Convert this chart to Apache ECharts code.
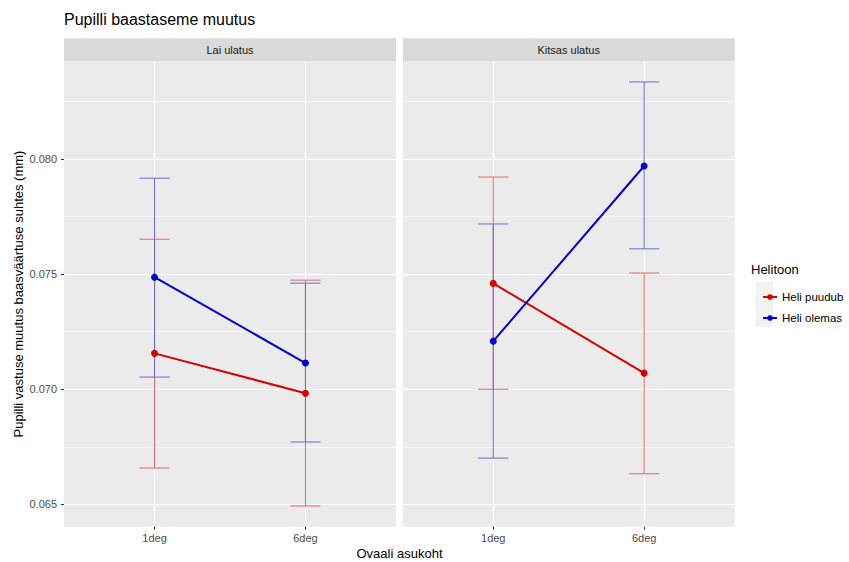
<!DOCTYPE html>
<html>
<head>
<meta charset="utf-8">
<script src="https://cdn.jsdelivr.net/npm/echarts@6/dist/echarts.min.js"></script>
<style>
html,body{margin:0;padding:0;background:#fff;}
#chart{width:849px;height:562px;}
</style>
</head>
<body>
<div id="chart"></div>
<script>
// ---- data ----
const categories = ['1deg', '6deg'];
const panels = ['Lai ulatus', 'Kitsas ulatus'];
const groupNames = ['Heli puudub', 'Heli olemas'];
const yTicks = [0.065, 0.070, 0.075, 0.080];
const yMinorTicks = [0.0675, 0.0725, 0.0775, 0.0825];

// Lai ulatus
const laiPuudubMean = [0.07156, 0.06983];
const laiPuudubLow  = [0.06658, 0.06493];
const laiPuudubHigh = [0.07652, 0.07474];
const laiOlemasMean = [0.07487, 0.07114];
const laiOlemasLow  = [0.07053, 0.06771];
const laiOlemasHigh = [0.07917, 0.07461];
// Kitsas ulatus
const kitsasPuudubMean = [0.07460, 0.07070];
const kitsasPuudubLow  = [0.07000, 0.06633];
const kitsasPuudubHigh = [0.07922, 0.07505];
const kitsasOlemasMean = [0.07209, 0.07970];
const kitsasOlemasLow  = [0.06701, 0.07610];
const kitsasOlemasHigh = [0.07718, 0.08335];

const panelData = [
  [[laiPuudubMean, laiPuudubLow, laiPuudubHigh], [laiOlemasMean, laiOlemasLow, laiOlemasHigh]],
  [[kitsasPuudubMean, kitsasPuudubLow, kitsasPuudubHigh], [kitsasOlemasMean, kitsasOlemasLow, kitsasOlemasHigh]]
];

// ---- styling ----
const FONT = "'Liberation Sans', Arial, sans-serif";
const lineColors = ['#D80000', '#0000D0'];
const barColors = ['#E66666', '#6A6AD4'];
const yMin = 0.06403, yMax = 0.08426;
const gridLeft = [64, 402.7], gridW = 332, gridTop = 61, gridH = 465.7;

const chart = echarts.init(document.getElementById('chart'), null, {renderer: 'svg'});

const grids = gridLeft.map(l => ({left: l, top: gridTop, width: gridW, height: gridH,
  show: true, backgroundColor: '#EBEBEB', borderWidth: 0, containLabel: false}));

const xAxes = gridLeft.map((l, p) => ({
  type: 'value', gridIndex: p, min: 0.4, max: 2.6,
  axisLine: {show: false},
  axisTick: {show: true, length: 3, lineStyle: {color: '#333', width: 1}, customValues: [1, 2]},
  axisLabel: {customValues: [1, 2], formatter: v => categories[Math.round(v) - 1] || '',
    color: '#4D4D4D', fontSize: 11, fontFamily: FONT, margin: 6},
  splitLine: {show: true, lineStyle: {color: '#FFFFFF', width: 1.1}}
}));

const yAxes = [];
[0, 1].forEach(p => {
  yAxes.push({
    type: 'value', gridIndex: p, min: yMin, max: yMax, position: 'left',
    axisLine: {show: false},
    axisTick: {show: p === 0, length: 3, lineStyle: {color: '#333', width: 1}, customValues: yTicks},
    axisLabel: {show: p === 0, customValues: yTicks, formatter: v => v.toFixed(3),
      color: '#4D4D4D', fontSize: 11, fontFamily: FONT, margin: 7},
    splitLine: {show: true, lineStyle: {color: '#FFFFFF', width: 1.1}}
  });
  yAxes.push({
    type: 'value', gridIndex: p, min: yMin, max: yMax, position: 'left',
    axisLine: {show: false},
    axisTick: {show: false, customValues: yMinorTicks},
    axisLabel: {show: false, customValues: yMinorTicks},
    splitLine: {show: true, lineStyle: {color: '#FFFFFF', width: 0.55}}
  });
});

const series = [];
[0, 1].forEach(p => {
  [0, 1].forEach(g => {
    const [mean, low, high] = panelData[p][g];
    series.push({
      type: 'custom', name: groupNames[g] + ' SE', xAxisIndex: p, yAxisIndex: 2 * p, z: 2,
      clip: false, silent: true,
      encode: {x: 0, y: [1, 2]},
      data: categories.map((c, i) => [i + 1, low[i], high[i]]),
      renderItem: (params, api) => {
        const x = api.value(0);
        const pLo = api.coord([x, api.value(1)]);
        const pHi = api.coord([x, api.value(2)]);
        const hw = api.size([0.1, 0])[0];
        const style = {stroke: barColors[g], lineWidth: 1, fill: null};
        return {type: 'group', children: [
          {type: 'line', shape: {x1: pLo[0], y1: pLo[1], x2: pHi[0], y2: pHi[1]}, style},
          {type: 'line', shape: {x1: pHi[0] - hw, y1: pHi[1], x2: pHi[0] + hw, y2: pHi[1]}, style},
          {type: 'line', shape: {x1: pLo[0] - hw, y1: pLo[1], x2: pLo[0] + hw, y2: pLo[1]}, style}
        ]};
      }
    });
  });
});
[0, 1].forEach(p => {
  [0, 1].forEach(g => {
    const mean = panelData[p][g][0];
    series.push({
      type: 'line', name: groupNames[g], xAxisIndex: p, yAxisIndex: 2 * p, z: 3,
      data: categories.map((c, i) => [i + 1, mean[i]]),
      symbol: 'circle', symbolSize: 7, showSymbol: true,
      lineStyle: {color: lineColors[g], width: 2},
      itemStyle: {color: lineColors[g]},
      emphasis: {disabled: true}, animation: false
    });
  });
});

const graphics = [
  {type: 'text', left: 64, top: 11, style: {text: 'Pupilli baastaseme muutus', font: '16px ' + FONT, fill: '#000'}},
  {type: 'text', x: 399.5, y: 553, style: {text: 'Ovaali asukoht', font: '13px ' + FONT, fill: '#000', align: 'center', verticalAlign: 'middle'}},
  {type: 'text', x: 18, y: 294, rotation: Math.PI / 2, style: {text: 'Pupilli vastuse muutus baasväärtuse suhtes (mm)', font: '13px ' + FONT, fill: '#000', align: 'center', verticalAlign: 'middle'}},
  {type: 'text', left: 751, top: 263, style: {text: 'Helitoon', font: '13px ' + FONT, fill: '#000'}},
  {type: 'rect', shape: {x: 755.5, y: 282, width: 17.5, height: 45}, style: {fill: '#F2F2F2'}, z: -1}
];
gridLeft.forEach((l, p) => {
  graphics.push({type: 'rect', shape: {x: l, y: 38.3, width: gridW, height: 22.7}, style: {fill: '#D9D9D9'}, z: -1});
  graphics.push({type: 'text', x: l + gridW / 2, y: 49.7, style: {text: panels[p], font: '11px ' + FONT, fill: '#1A1A1A', align: 'center', verticalAlign: 'middle'}});
});

chart.setOption({
  animation: false,
  backgroundColor: '#FFFFFF',
  grid: grids,
  xAxis: xAxes,
  yAxis: yAxes,
  legend: {
    data: groupNames, orient: 'vertical', left: 757, top: 286,
    itemWidth: 14, itemHeight: 7, itemGap: 9,
    textStyle: {fontSize: 11.5, fontFamily: FONT, color: '#000'},
    selectedMode: false
  },
  graphic: graphics,
  series: series
});
</script>
</body>
</html>
